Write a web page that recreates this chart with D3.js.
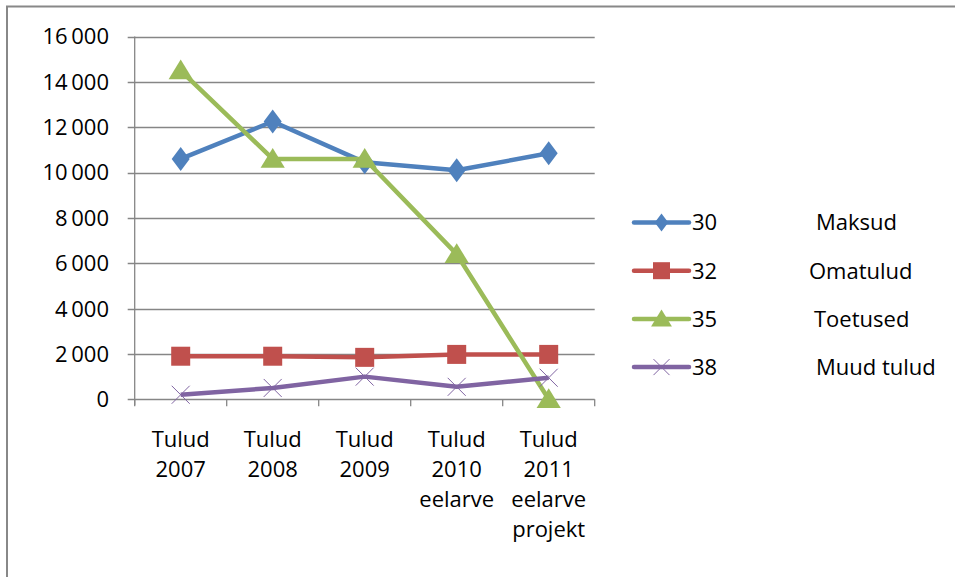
<!DOCTYPE html>
<html>
<head>
<meta charset="utf-8">
<script src="https://cdnjs.cloudflare.com/ajax/libs/d3/7.8.5/d3.min.js"></script>
<style>
  body { margin: 0; background: #fff; }
  svg { font-family: "Open Sans", sans-serif; }
</style>
</head>
<body>
<svg width="955" height="577"></svg>
<script>
var categories = [
    ["Tulud", "2007"],
    ["Tulud", "2008"],
    ["Tulud", "2009"],
    ["Tulud", "2010", "eelarve"],
    ["Tulud", "2011", "eelarve", "projekt"]
];
var codes = ["30", "32", "35", "38"];
var names = ["Maksud", "Omatulud", "Toetused", "Muud tulud"];
var maksud = [10600, 12250, 10450, 10100, 10850];
var omatulud = [1900, 1900, 1850, 1980, 1980];
var toetused = [14500, 10600, 10600, 6400, 0];
var muudTulud = [200, 500, 1000, 550, 950];
var yTicks = [0, 2000, 4000, 6000, 8000, 10000, 12000, 14000, 16000];

var colors = ["#4F81BD", "#C0504D", "#9BBB59", "#8064A2"];
var shapes = ["diamond", "square", "triangle", "cross"];
var seriesValues = [maksud, omatulud, toetused, muudTulud];

var svg = d3.select("svg"),
    plotLeft = 134.7, plotRight = 594.7, plotTop = 36.5, plotBottom = 399.3,
    fontSize = 22;

var fmt = d3.formatLocale({ decimal: ",", thousands: "\u2009", grouping: [3], currency: ["", ""] }).format(",d");

// frame (only top and left edges visible in the picture)
svg.append("path")
    .attr("d", "M7,577 V6.5 H955")
    .attr("fill", "none")
    .attr("stroke", "#888")
    .attr("stroke-width", 2);

var x = d3.scaleBand()
    .domain(d3.range(categories.length))
    .range([plotLeft, plotRight]);

var y = d3.scaleLinear()
    .domain([0, 16000])
    .range([plotBottom, plotTop]);

// gridlines
svg.append("g")
    .selectAll("line")
    .data(yTicks)
    .enter().append("line")
    .attr("x1", plotLeft - 7)
    .attr("x2", plotRight)
    .attr("y1", d => Math.round(y(d)) + 0.5)
    .attr("y2", d => Math.round(y(d)) + 0.5)
    .attr("stroke", "#868686")
    .attr("stroke-width", 1.3);

// y axis line
svg.append("line")
    .attr("x1", plotLeft).attr("x2", plotLeft)
    .attr("y1", plotTop).attr("y2", plotBottom + 6)
    .attr("stroke", "#868686")
    .attr("stroke-width", 1.3);

// x ticks
svg.append("g")
    .selectAll("line")
    .data(d3.range(categories.length + 1))
    .enter().append("line")
    .attr("x1", i => plotLeft + i * x.bandwidth())
    .attr("x2", i => plotLeft + i * x.bandwidth())
    .attr("y1", plotBottom)
    .attr("y2", plotBottom + 7)
    .attr("stroke", "#868686")
    .attr("stroke-width", 1.3);

// y labels
svg.append("g")
    .selectAll("text")
    .data(yTicks)
    .enter().append("text")
    .attr("x", 109)
    .attr("y", d => y(d))
    .attr("dy", "0.36em")
    .attr("text-anchor", "end")
    .attr("font-size", fontSize)
    .attr("fill", "#000")
    .text(d => fmt(d));

// x labels
var xl = svg.append("g")
    .selectAll("text")
    .data(categories)
    .enter().append("text")
    .attr("text-anchor", "middle")
    .attr("font-size", fontSize)
    .attr("fill", "#000");
xl.selectAll("tspan")
    .data((d, i) => d.map(t => ({ t: t, i: i })))
    .enter().append("tspan")
    .attr("x", d => x(d.i) + x.bandwidth() / 2)
    .attr("y", (d, j) => plotBottom + 48 + j * 30)
    .text(d => d.t);

function marker (g, shape, color, s) {
    if (shape === "diamond") {
        g.append("path")
            .attr("d", `M0,${-s * 0.6}L${s * 0.45},0L0,${s * 0.6}L${-s * 0.45},0Z`)
            .attr("fill", color);
    } else if (shape === "square") {
        g.append("rect")
            .attr("x", -s / 2).attr("y", -s / 2)
            .attr("width", s).attr("height", s)
            .attr("fill", color);
    } else if (shape === "triangle") {
        g.append("path")
            .attr("d", `M0,${-s * 0.5}L${s * 0.55},${s * 0.4}L${-s * 0.55},${s * 0.4}Z`)
            .attr("fill", color);
    } else {
        let h = s * 0.5;
        g.append("path")
            .attr("d", `M${-h},${-h}L${h},${h}M${-h},${h}L${h},${-h}`)
            .attr("stroke", color)
            .attr("stroke-width", 1)
            .attr("fill", "none");
    }
}

var line = d3.line()
    .x((d, i) => x(i) + x.bandwidth() / 2)
    .y(d => y(d));

var sizes = [20, 19, 22, 18];

seriesValues.forEach((vals, k) => {
    svg.append("path")
        .datum(vals)
        .attr("d", line)
        .attr("fill", "none")
        .attr("stroke", colors[k])
        .attr("stroke-width", 4.5)
        .attr("stroke-linejoin", "round");
});

seriesValues.forEach((vals, k) => {
    vals.forEach((v, i) => {
        let g = svg.append("g")
            .attr("transform", `translate(${x(i) + x.bandwidth() / 2},${y(v)})`);
        marker(g, shapes[k], colors[k], sizes[k]);
    });
});

// legend
var legend = svg.append("g");
codes.forEach((c, k) => {
    let ly = 222.5 + k * 48.2;
    let g = legend.append("g").attr("transform", `translate(0,${ly})`);
    g.append("line")
        .attr("x1", 634).attr("x2", 689)
        .attr("stroke", colors[k])
        .attr("stroke-width", 4.5)
        .attr("stroke-linecap", "round");
    let m = g.append("g").attr("transform", "translate(661.5,0)");
    marker(m, shapes[k], colors[k], [15, 17, 19, 16][k]);
    g.append("text")
        .attr("x", 692)
        .attr("dy", "0.36em")
        .attr("font-size", fontSize)
        .text(c);
    g.append("text")
        .attr("x", [816, 809, 814, 816][k])
        .attr("dy", "0.36em")
        .attr("font-size", fontSize)
        .text(names[k]);
});
</script>
</body>
</html>
